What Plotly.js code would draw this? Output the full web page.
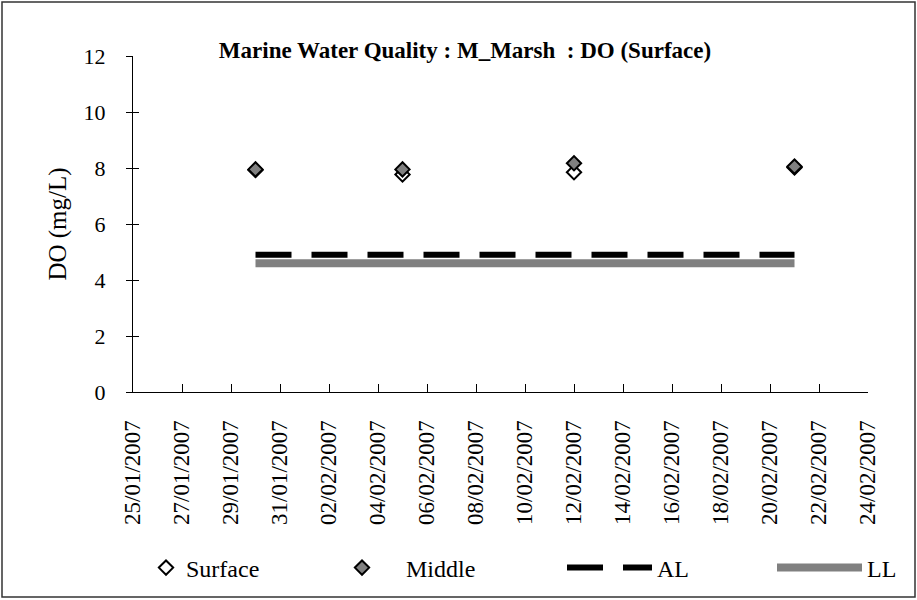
<!DOCTYPE html>
<html>
<head>
<meta charset="utf-8">
<script src="https://cdn.plot.ly/plotly-3.0.1.min.js"></script>
<style>html,body{margin:0;padding:0;background:#fff;}#chart{width:917px;height:600px;}</style>
</head>
<body>
<div id="chart"></div>
<script>
// Data
var sampleDates = ['2007-01-30', '2007-02-05', '2007-02-12', '2007-02-21'];
var surfaceDO = [7.93, 7.77, 7.85, 8.02];
var middleDO = [7.95, 7.95, 8.17, 8.05];
var limitDates = ['2007-01-30', '2007-02-21'];
var alValues = [4.9, 4.9];
var llValues = [4.6, 4.6];
var xRange = ['2007-01-25', '2007-02-24'];
var yRange = [0, 12];
var titleText = 'Marine Water Quality : M_Marsh\u00a0 : DO (Surface)';
var yTitle = 'DO (mg/L)';

var FONT = '"Liberation Serif", "Times New Roman", serif';
var W = 917, H = 600;
var L = 133, R = 49, T = 56, B = 208;
var pw = W - L - R, ph = H - T - B;
function px2x(p) { return (p - L) / pw; }
function py2y(p) { return (H - B - p) / ph; }

var traces = [
  {
    x: limitDates, y: alValues, name: 'AL', type: 'scatter', mode: 'lines',
    line: { color: '#000000', width: 6, dash: '36px,20px' },
    legend: 'legend3', yaxis: 'y2'
  },
  {
    x: limitDates, y: llValues, name: 'LL', type: 'scatter', mode: 'lines',
    line: { color: '#808080', width: 8 },
    legend: 'legend4', yaxis: 'y2'
  },
  {
    x: sampleDates, y: surfaceDO, name: 'Surface', type: 'scatter', mode: 'markers',
    marker: { symbol: 'diamond', size: 11, color: '#ffffff', line: { color: '#000000', width: 2 } },
    legend: 'legend'
  },
  {
    x: sampleDates, y: middleDO, name: '\u00a0\u00a0\u00a0\u00a0Middle', type: 'scatter', mode: 'markers',
    marker: { symbol: 'diamond', size: 11, color: '#808080', line: { color: '#000000', width: 2 } },
    legend: 'legend2'
  }
];

function leg(xp, iw) {
  return {
    xref: 'container', yref: 'container', x: xp / W, y: 1 - 568 / H,
    xanchor: 'left', yanchor: 'middle', bgcolor: 'rgba(0,0,0,0)', borderwidth: 0,
    font: { family: FONT, size: 24, color: '#000' }, itemwidth: iw, orientation: 'h'
  };
}

var layout = {
  width: W, height: H,
  margin: { l: L, r: R, t: T, b: B, pad: 0 },
  paper_bgcolor: '#ffffff', plot_bgcolor: '#ffffff',
  font: { family: FONT, size: 22, color: '#000' },
  showlegend: true,
  title: {
    text: '<b>' + titleText + '</b>', font: { family: FONT, size: 23, color: '#000' },
    xref: 'container', yref: 'container', x: 465 / W, y: 1 - 50 / H, xanchor: 'center', yanchor: 'middle'
  },
  xaxis: {
    type: 'date', range: xRange, tick0: xRange[0], dtick: 172800000, tickformat: '%d/%m/%Y',
    tickangle: -90, ticks: 'inside', ticklen: 8, tickcolor: '#000', tickwidth: 1,
    showline: true, linecolor: '#000', linewidth: 1, showgrid: false, zeroline: false,
    tickfont: { family: FONT, size: 23, color: '#000' }, ticklabelstandoff: 18, fixedrange: true
  },
  yaxis: {
    range: yRange, tick0: 0, dtick: 2, ticks: 'outside', ticklen: 6, tickcolor: '#000', tickwidth: 1,
    showline: true, linecolor: '#000', linewidth: 1, showgrid: false, zeroline: false,
    tickfont: { family: FONT, size: 22, color: '#000' }, ticklabelstandoff: 16,
    title: { text: yTitle, font: { family: FONT, size: 25, color: '#000' }, standoff: 9 }
  },
  yaxis2: {
    range: yRange, tick0: 0, dtick: 2, overlaying: 'y', side: 'left', ticks: 'inside', ticklen: 6,
    tickcolor: '#000', tickwidth: 1, showticklabels: false, showline: false, showgrid: false, zeroline: false
  },
  legend: leg(146, 30),
  legend2: leg(342, 30),
  legend3: leg(562, 85),
  legend4: leg(772, 85),
  shapes: [
    { type: 'rect', xref: 'paper', yref: 'paper', x0: px2x(2), x1: px2x(915), y0: py2y(597), y1: py2y(2),
      line: { color: '#333333', width: 1.5 }, fillcolor: 'rgba(0,0,0,0)', layer: 'below' }
  ]
};

Plotly.newPlot('chart', traces, layout, { displayModeBar: false, staticPlot: true });
</script>
</body>
</html>
